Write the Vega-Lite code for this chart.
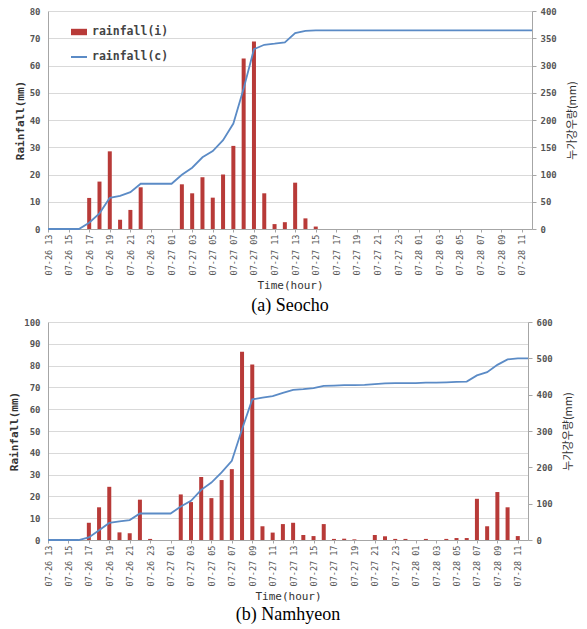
{
  "$schema": "https://vega.github.io/schema/vega-lite/v6.json",
  "padding": {"left": 8, "top": 7, "right": 0, "bottom": 0},
  "background": "white",
  "datasets": {
    "a": [
      {"t": "07-26 13", "i": 0, "c": 0},
      {"t": "07-26 14", "i": 0, "c": 0},
      {"t": "07-26 15", "i": 0, "c": 0},
      {"t": "07-26 16", "i": 0, "c": 0},
      {"t": "07-26 17", "i": 11.4, "c": 11.4},
      {"t": "07-26 18", "i": 17.4, "c": 28.8},
      {"t": "07-26 19", "i": 28.5, "c": 57.3},
      {"t": "07-26 20", "i": 3.4, "c": 60.7},
      {"t": "07-26 21", "i": 7.0, "c": 67.7},
      {"t": "07-26 22", "i": 15.3, "c": 83.0},
      {"t": "07-26 23", "i": 0, "c": 83.0},
      {"t": "07-27 00", "i": 0, "c": 83.0},
      {"t": "07-27 01", "i": 0, "c": 83.0},
      {"t": "07-27 02", "i": 16.4, "c": 99.4},
      {"t": "07-27 03", "i": 13.1, "c": 112.5},
      {"t": "07-27 04", "i": 19.0, "c": 131.5},
      {"t": "07-27 05", "i": 11.5, "c": 143.0},
      {"t": "07-27 06", "i": 20.0, "c": 163.0},
      {"t": "07-27 07", "i": 30.5, "c": 193.5},
      {"t": "07-27 08", "i": 62.6, "c": 258.0},
      {"t": "07-27 09", "i": 68.8, "c": 330.0},
      {"t": "07-27 10", "i": 13.1, "c": 338.0},
      {"t": "07-27 11", "i": 1.8, "c": 340.0},
      {"t": "07-27 12", "i": 2.5, "c": 342.5},
      {"t": "07-27 13", "i": 17.0, "c": 359.5},
      {"t": "07-27 14", "i": 3.9, "c": 363.4},
      {"t": "07-27 15", "i": 0.9, "c": 364.3},
      {"t": "07-27 16", "i": 0, "c": 364.3},
      {"t": "07-27 17", "i": 0, "c": 364.3},
      {"t": "07-27 18", "i": 0, "c": 364.3},
      {"t": "07-27 19", "i": 0, "c": 364.3},
      {"t": "07-27 20", "i": 0, "c": 364.3},
      {"t": "07-27 21", "i": 0, "c": 364.3},
      {"t": "07-27 22", "i": 0, "c": 364.3},
      {"t": "07-27 23", "i": 0, "c": 364.3},
      {"t": "07-28 00", "i": 0, "c": 364.3},
      {"t": "07-28 01", "i": 0, "c": 364.3},
      {"t": "07-28 02", "i": 0, "c": 364.3},
      {"t": "07-28 03", "i": 0, "c": 364.3},
      {"t": "07-28 04", "i": 0, "c": 364.3},
      {"t": "07-28 05", "i": 0, "c": 364.3},
      {"t": "07-28 06", "i": 0, "c": 364.3},
      {"t": "07-28 07", "i": 0, "c": 364.3},
      {"t": "07-28 08", "i": 0, "c": 364.3},
      {"t": "07-28 09", "i": 0, "c": 364.3},
      {"t": "07-28 10", "i": 0, "c": 364.3},
      {"t": "07-28 11", "i": 0, "c": 364.3},
      {"t": "07-28 12", "i": 0, "c": 364.3}
    ],
    "b": [
      {"t": "07-26 13", "i": 0, "c": 0},
      {"t": "07-26 14", "i": 0, "c": 0},
      {"t": "07-26 15", "i": 0, "c": 0},
      {"t": "07-26 16", "i": 0, "c": 0},
      {"t": "07-26 17", "i": 7.9, "c": 7},
      {"t": "07-26 18", "i": 15.0, "c": 27},
      {"t": "07-26 19", "i": 24.4, "c": 47},
      {"t": "07-26 20", "i": 3.5, "c": 51},
      {"t": "07-26 21", "i": 3.1, "c": 55},
      {"t": "07-26 22", "i": 18.5, "c": 73},
      {"t": "07-26 23", "i": 0.5, "c": 73},
      {"t": "07-27 00", "i": 0, "c": 73},
      {"t": "07-27 01", "i": 0, "c": 73},
      {"t": "07-27 02", "i": 20.9, "c": 92},
      {"t": "07-27 03", "i": 17.4, "c": 108},
      {"t": "07-27 04", "i": 28.9, "c": 138},
      {"t": "07-27 05", "i": 19.2, "c": 158},
      {"t": "07-27 06", "i": 27.5, "c": 186},
      {"t": "07-27 07", "i": 32.5, "c": 218},
      {"t": "07-27 08", "i": 86.4, "c": 305},
      {"t": "07-27 09", "i": 80.5, "c": 387},
      {"t": "07-27 10", "i": 6.3, "c": 392},
      {"t": "07-27 11", "i": 3.4, "c": 396},
      {"t": "07-27 12", "i": 7.3, "c": 405},
      {"t": "07-27 13", "i": 7.9, "c": 413},
      {"t": "07-27 14", "i": 2.3, "c": 415},
      {"t": "07-27 15", "i": 1.8, "c": 418},
      {"t": "07-27 16", "i": 7.3, "c": 424},
      {"t": "07-27 17", "i": 0.5, "c": 425},
      {"t": "07-27 18", "i": 0.6, "c": 426},
      {"t": "07-27 19", "i": 0.3, "c": 426},
      {"t": "07-27 20", "i": 0, "c": 427},
      {"t": "07-27 21", "i": 2.3, "c": 429},
      {"t": "07-27 22", "i": 1.7, "c": 431},
      {"t": "07-27 23", "i": 0.5, "c": 432},
      {"t": "07-28 00", "i": 0.5, "c": 432},
      {"t": "07-28 01", "i": 0, "c": 432},
      {"t": "07-28 02", "i": 0.5, "c": 433},
      {"t": "07-28 03", "i": 0, "c": 433},
      {"t": "07-28 04", "i": 0.5, "c": 434},
      {"t": "07-28 05", "i": 0.9, "c": 435},
      {"t": "07-28 06", "i": 0.9, "c": 436},
      {"t": "07-28 07", "i": 18.9, "c": 453},
      {"t": "07-28 08", "i": 6.3, "c": 462},
      {"t": "07-28 09", "i": 22.0, "c": 482},
      {"t": "07-28 10", "i": 15.0, "c": 497},
      {"t": "07-28 11", "i": 1.8, "c": 500},
      {"t": "07-28 12", "i": 0, "c": 500}
    ]
  },
  "config": {
    "view": {"stroke": null},
    "axis": {
      "labelFont": "DejaVu Sans Mono",
      "titleFont": "DejaVu Sans Mono",
      "labelColor": "#555555",
      "titleColor": "#333333",
      "domainColor": "#a6a6a6",
      "tickColor": "#a6a6a6",
      "gridColor": "#d9d9d9",
      "labelFontSize": 9,
      "labelFontWeight": "bold",
      "titleFontSize": 11,
      "titleFontWeight": "normal"
    },
    "legend": {
      "labelFont": "DejaVu Sans Mono",
      "labelFontSize": 11.5,
      "labelFontWeight": "bold",
      "labelColor": "#444444"
    },
    "title": {
      "font": "Liberation Serif",
      "fontSize": 18,
      "fontWeight": "normal",
      "color": "#000000"
    }
  },
  "vconcat": [
    {
      "width": 484,
      "height": 218,
      "title": {"text": "(a) Seocho", "orient": "bottom", "anchor": "middle", "offset": 6},
      "data": {"name": "a"},
      "encoding": {
        "x": {
          "field": "t",
          "type": "ordinal",
          "scale": {"type": "point", "padding": 0},
          "axis": {
            "title": "Time(hour)",
            "values": ["07-26 13", "07-26 15", "07-26 17", "07-26 19", "07-26 21", "07-26 23", "07-27 01", "07-27 03", "07-27 05", "07-27 07", "07-27 09", "07-27 11", "07-27 13", "07-27 15", "07-27 17", "07-27 19", "07-27 21", "07-27 23", "07-28 01", "07-28 03", "07-28 05", "07-28 07", "07-28 09", "07-28 11"],
            "labelAngle": -90,
            "labelFontSize": 8.5,
            "labelFontWeight": "normal",
            "labelPadding": 2,
            "tickSize": 3,
            "grid": false,
            "titlePadding": 5
          }
        }
      },
      "layer": [
        {
          "mark": {"type": "bar", "size": 4},
          "encoding": {
            "y": {
              "field": "i",
              "type": "quantitative",
              "scale": {"domain": [0, 80], "nice": false},
              "axis": {"title": "Rainfall(mm)", "titleFontWeight": "bold", "tickCount": 8, "ticks": false, "labelPadding": 8, "grid": true}
            },
            "fill": {
              "datum": "rainfall(i)",
              "type": "nominal",
              "scale": {"range": ["#b83a38"]},
              "legend": {"title": null, "orient": "none", "legendX": 22, "legendY": 12, "symbolType": "M-1,-0.4L1,-0.4L1,0.4L-1,0.4Z", "symbolSize": 256}
            }
          }
        },
        {
          "mark": {"type": "line", "strokeWidth": 1.8},
          "encoding": {
            "y": {
              "field": "c",
              "type": "quantitative",
              "scale": {"domain": [0, 400], "nice": false},
              "axis": {"title": "누가강우량(mm)", "orient": "right", "titleFont": "Noto Sans CJK KR", "titleAngle": 270, "titleBaseline": "top", "titlePadding": 10, "tickCount": 8, "tickSize": 4, "labelPadding": 4, "grid": false}
            },
            "stroke": {
              "datum": "rainfall(c)",
              "type": "nominal",
              "scale": {"range": ["#5b8bc6"]},
              "legend": {"title": null, "orient": "none", "legendX": 22, "legendY": 37, "symbolType": "stroke", "symbolSize": 256, "symbolStrokeWidth": 2}
            }
          }
        }
      ],
      "resolve": {"scale": {"y": "independent"}}
    },
    {
      "width": 480,
      "height": 218,
      "title": {"text": "(b) Namhyeon", "orient": "bottom", "anchor": "middle", "offset": 4},
      "data": {"name": "b"},
      "encoding": {
        "x": {
          "field": "t",
          "type": "ordinal",
          "scale": {"type": "point", "padding": 0},
          "axis": {
            "title": "Time(hour)",
            "values": ["07-26 13", "07-26 15", "07-26 17", "07-26 19", "07-26 21", "07-26 23", "07-27 01", "07-27 03", "07-27 05", "07-27 07", "07-27 09", "07-27 11", "07-27 13", "07-27 15", "07-27 17", "07-27 19", "07-27 21", "07-27 23", "07-28 01", "07-28 03", "07-28 05", "07-28 07", "07-28 09", "07-28 11"],
            "labelAngle": -90,
            "labelFontSize": 8.5,
            "labelFontWeight": "normal",
            "labelPadding": 2,
            "tickSize": 3,
            "grid": false,
            "titlePadding": 5
          }
        }
      },
      "layer": [
        {
          "mark": {"type": "bar", "size": 4},
          "encoding": {
            "y": {
              "field": "i",
              "type": "quantitative",
              "scale": {"domain": [0, 100], "nice": false},
              "axis": {"title": "Rainfall(mm)", "titleFontWeight": "bold", "tickCount": 10, "ticks": false, "labelPadding": 8, "grid": true}
            },
            "fill": {
              "datum": "rainfall(i)",
              "type": "nominal",
              "scale": {"range": ["#b83a38"]},
              "legend": {"title": null, "orient": "none", "legendX": 20, "legendY": 12, "symbolType": "M-1,-0.4L1,-0.4L1,0.4L-1,0.4Z", "symbolSize": 256}
            }
          }
        },
        {
          "mark": {"type": "line", "strokeWidth": 1.8},
          "encoding": {
            "y": {
              "field": "c",
              "type": "quantitative",
              "scale": {"domain": [0, 600], "nice": false},
              "axis": {"title": "누가강우량(mm)", "orient": "right", "titleFont": "Noto Sans CJK KR", "titleAngle": 270, "titleBaseline": "top", "titlePadding": 10, "tickCount": 6, "tickSize": 4, "labelPadding": 4, "grid": false}
            },
            "stroke": {
              "datum": "rainfall(c)",
              "type": "nominal",
              "scale": {"range": ["#5b8bc6"]},
              "legend": {"title": null, "orient": "none", "legendX": 20, "legendY": 37, "symbolType": "stroke", "symbolSize": 256, "symbolStrokeWidth": 2}
            }
          }
        }
      ],
      "resolve": {"scale": {"y": "independent"}}
    }
  ],
  "spacing": 3
}
